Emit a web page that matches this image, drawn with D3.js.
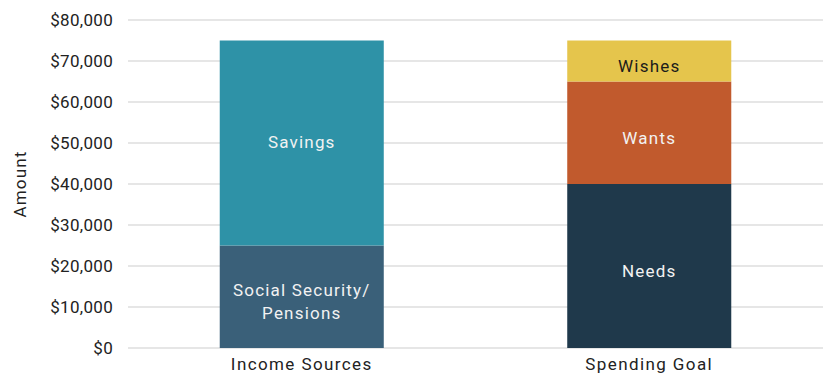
<!DOCTYPE html>
<html>
<head>
<meta charset="utf-8">
<script src="https://cdn.jsdelivr.net/npm/d3@7"></script>
<style>
  html, body { margin: 0; padding: 0; background: #fff; }
  svg { display: block; font-family: Roboto, "Noto Sans", sans-serif; }
</style>
</head>
<body>
<svg id="chart" width="824" height="376"></svg>
<script>
// Retirement income vs. spending, stacked by component
const categories = ["Income Sources", "Spending Goal"];
const segments = [
  { category: "Income Sources", name: "Social Security/\nPensions", value: 25000 },
  { category: "Income Sources", name: "Savings", value: 50000 },
  { category: "Spending Goal", name: "Needs", value: 40000 },
  { category: "Spending Goal", name: "Wants", value: 25000 },
  { category: "Spending Goal", name: "Wishes", value: 10000 }
];
const segmentColors = {
  "Social Security/\nPensions": "#3a6079",
  "Savings": "#2e92a7",
  "Needs": "#1f394b",
  "Wants": "#c15a2d",
  "Wishes": "#e5c54c"
};
const labelColors = {
  "Wishes": "#1b1b1b"
};
const yTicks = [0, 10000, 20000, 30000, 40000, 50000, 60000, 70000, 80000];
const yTitle = "Amount";

const svg = d3.select("#chart");
const plot = { left: 128, right: 823, top: 20, bottom: 348 };
const fontSize = 17;
const wordTracking = "1.2px";

const x = d3.scaleBand()
  .domain(categories)
  .range([plot.left, plot.right])
  .paddingInner(0.528)
  .paddingOuter(0.264);

const y = d3.scaleLinear()
  .domain([0, 80000])
  .range([plot.bottom, plot.top]);

// Horizontal gridlines
svg.append("g")
  .selectAll("line")
  .data(yTicks)
  .join("line")
  .attr("x1", plot.left)
  .attr("x2", plot.right)
  .attr("y1", d => y(d))
  .attr("y2", d => y(d))
  .attr("stroke", "#dedede")
  .attr("stroke-width", 1.5);

// Y axis labels
const yAxis = d3.axisLeft(y)
  .tickValues(yTicks)
  .tickSize(0)
  .tickPadding(15)
  .tickFormat(d => "$" + d3.format(",")(d));
svg.append("g")
  .attr("transform", `translate(${plot.left},0)`)
  .call(yAxis)
  .call(g => g.select(".domain").remove())
  .call(g => g.selectAll("text")
    .attr("font-size", fontSize)
    .attr("font-family", "Roboto, sans-serif")
    .attr("letter-spacing", "0.3px")
    .attr("fill", "#222"));

// X axis labels
const xAxis = d3.axisBottom(x).tickSize(0).tickPadding(10);
svg.append("g")
  .attr("transform", `translate(0,${plot.bottom})`)
  .call(xAxis)
  .call(g => g.select(".domain").remove())
  .call(g => g.selectAll("text")
    .attr("font-size", fontSize)
    .attr("font-family", "Roboto, sans-serif")
    .attr("letter-spacing", "1.4px")
    .attr("fill", "#222"));

// Axis title
svg.append("text")
  .attr("transform", `translate(26,${(plot.top + plot.bottom) / 2}) rotate(-90)`)
  .attr("text-anchor", "middle")
  .attr("font-size", fontSize)
  .attr("letter-spacing", wordTracking)
  .attr("fill", "#222")
  .text(yTitle);

// Stack segments within each category
const stacked = [];
categories.forEach(c => {
  let base = 0;
  segments.filter(s => s.category === c).forEach(s => {
    stacked.push({ ...s, y0: base, y1: base + s.value });
    base += s.value;
  });
});

svg.append("g")
  .selectAll("rect")
  .data(stacked)
  .join("rect")
  .attr("x", d => x(d.category))
  .attr("width", x.bandwidth())
  .attr("y", d => y(d.y1))
  .attr("height", d => y(d.y0) - y(d.y1))
  .attr("fill", d => segmentColors[d.name]);

// Segment labels, set a little below the segment middle
const labelNudge = { "Savings": -1 };
const labels = svg.append("g")
  .selectAll("text")
  .data(stacked)
  .join("text")
  .attr("text-anchor", "middle")
  .attr("font-size", fontSize)
  .attr("letter-spacing", wordTracking)
  .attr("fill", d => labelColors[d.name] || "#f2f2f2")
  .attr("transform", d => {
    const cy = y((d.y0 + d.y1) / 2) + (d.name in labelNudge ? labelNudge[d.name] : 5);
    return `translate(${x(d.category) + x.bandwidth() / 2},${cy})`;
  });

labels.each(function (d) {
  const lines = d.name.split("\n");
  const lh = 23;
  const sel = d3.select(this);
  lines.forEach((t, i) => {
    sel.append("tspan")
      .attr("x", 0)
      .attr("y", (i - (lines.length - 1) / 2) * lh)
      .attr("dy", "0.35em")
      .text(t);
  });
});
</script>
</body>
</html>
